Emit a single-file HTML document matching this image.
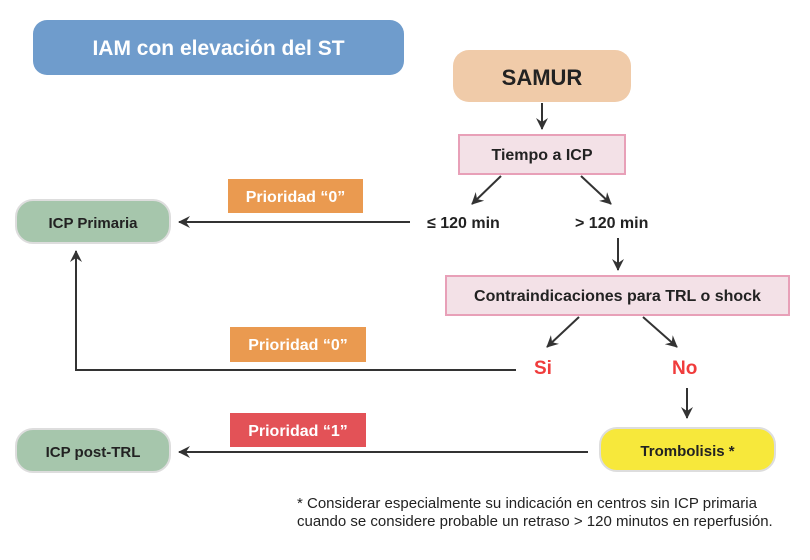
<!DOCTYPE html>
<html><head><meta charset="utf-8"><style>
body{margin:0;width:810px;height:560px;background:#fff;position:relative;overflow:hidden;font-family:"Liberation Sans",sans-serif;}
.b{position:absolute;box-sizing:border-box;display:flex;align-items:center;justify-content:center;font-weight:bold;color:#222;padding-top:3px;}
.t{position:absolute;font-weight:bold;white-space:nowrap;}
svg{position:absolute;left:0;top:0;}
</style></head><body>
<svg width="810" height="560">
<defs><marker id="a" markerWidth="12" markerHeight="12" refX="11" refY="6" orient="auto" markerUnits="userSpaceOnUse"><path d="M0,0 L12,6 L0,12 L4,6 z" fill="#333"/></marker></defs>
<g stroke="#333" stroke-width="2" fill="none" marker-end="url(#a)">
<line x1="542" y1="103" x2="542" y2="129"/>
<line x1="501" y1="176" x2="472" y2="204"/>
<line x1="581" y1="176" x2="611" y2="204"/>
<line x1="618" y1="238" x2="618" y2="270"/>
<line x1="579" y1="317" x2="547" y2="347"/>
<line x1="643" y1="317" x2="677" y2="347"/>
<line x1="687" y1="388" x2="687" y2="418"/>
<line x1="410" y1="222" x2="179" y2="222"/>
<polyline points="516,370 76,370 76,251"/>
<line x1="588" y1="452" x2="179" y2="452"/>
</g></svg>
<div class="b" style="left:33px;top:20px;width:371px;height:55px;background:#6f9ccc;border-radius:14px;color:#fff;font-size:21px;">IAM con elevación del ST</div>
<div class="b" style="left:453px;top:50px;width:178px;height:52px;background:#f0cba9;border-radius:16px;font-size:22px;">SAMUR</div>
<div class="b" style="left:458px;top:134px;width:168px;height:41px;background:#f3e1e7;border:2px solid #e8a0b8;font-size:16px;">Tiempo a ICP</div>
<div class="t" style="left:427px;top:215px;font-size:16px;color:#222;">≤ 120 min</div>
<div class="t" style="left:575px;top:215px;font-size:16px;color:#222;">&gt; 120 min</div>
<div class="b" style="left:445px;top:275px;width:345px;height:41px;background:#f3e1e7;border:2px solid #e8a0b8;font-size:16px;">Contraindicaciones para TRL o shock</div>
<div class="t" style="left:534px;top:358px;font-size:19px;color:#f03c3c;">Si</div>
<div class="t" style="left:672px;top:358px;font-size:19px;color:#f03c3c;">No</div>
<div class="b" style="left:599px;top:427px;width:177px;height:45px;background:#f7e83b;border:2px solid #ddd;border-radius:18px;font-size:15px;">Trombolisis *</div>
<div class="b" style="left:15px;top:199px;width:156px;height:45px;background:#a6c6ac;border:2px solid #ddd;border-radius:18px;font-size:15px;">ICP Primaria</div>
<div class="b" style="left:15px;top:428px;width:156px;height:45px;background:#a6c6ac;border:2px solid #ddd;border-radius:18px;font-size:15px;">ICP post-TRL</div>
<div class="b" style="left:228px;top:179px;width:135px;height:34px;background:#ea9a50;color:#fff;font-size:16px;">Prioridad “0”</div>
<div class="b" style="left:230px;top:327px;width:136px;height:35px;background:#ea9a50;color:#fff;font-size:16px;">Prioridad “0”</div>
<div class="b" style="left:230px;top:413px;width:136px;height:34px;background:#e35257;color:#fff;font-size:16px;">Prioridad “1”</div>
<div style="position:absolute;left:297px;top:495px;font-size:15px;line-height:18px;color:#222;white-space:nowrap;">* Considerar especialmente su indicación en centros sin ICP primaria<br>cuando se considere probable un retraso &gt; 120 minutos en reperfusión.</div>
</body></html>
